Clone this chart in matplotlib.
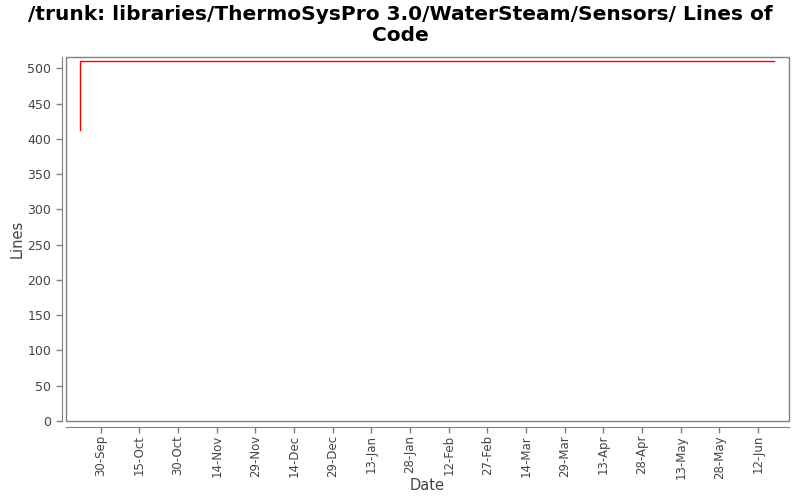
import matplotlib
matplotlib.use("Agg")
import matplotlib.pyplot as plt
import matplotlib.dates as mdates
from matplotlib.patches import Rectangle
import numpy as np
import datetime as dt

# data
dates = [dt.date(2008, 9, 22), dt.date(2008, 9, 22), dt.date(2009, 6, 18)]
lines = [413, 511, 511]

tick_dates = [dt.date(2008, 9, 30) + dt.timedelta(days=15 * i) for i in range(18)]

fig = plt.figure(figsize=(8, 5), dpi=100)
ax = fig.add_axes([66 / 800, 79 / 500, 723 / 800, 364 / 500])

ax.plot(mdates.date2num(dates), lines, color="red", linewidth=1)

ax.set_xlim(mdates.date2num(dt.date(2008, 9, 16)) + 0.5,
            mdates.date2num(dt.date(2009, 6, 24)))
ax.set_ylim(0, 516)
ax.set_yticks(np.arange(0, 501, 50))
ax.set_xticks(mdates.date2num(tick_dates))
ax.set_xticklabels([d.strftime("%-d-%b") for d in tick_dates])

grey = "#808080"
for s in ["top", "right"]:
    ax.spines[s].set_visible(False)
ax.spines["left"].set_position(("outward", 3))
ax.spines["bottom"].set_position(("outward", 4))
for s in ["left", "bottom"]:
    ax.spines[s].set_color(grey)
ax.add_patch(Rectangle((0, 0), 1, 1, transform=ax.transAxes, fill=False,
                       edgecolor=grey, linewidth=1, clip_on=False))
ax.tick_params(colors=grey, labelcolor="#444444", labelsize=9, length=4, width=1)
ax.tick_params(axis="x", labelrotation=90, labelsize=8.5, pad=2)

ax.set_xlabel("Date", fontsize=10.5, color="#444444")
ax.xaxis.set_label_coords(0.5, -0.156)
ax.set_ylabel("Lines", fontsize=10.5, color="#444444", labelpad=2)

fig.suptitle("/trunk: libraries/ThermoSysPro 3.0/WaterSteam/Sensors/ Lines of\nCode",
             fontsize=14.5, fontweight="bold", y=0.99, linespacing=1.15)

fig.savefig("out.png", dpi=100)
